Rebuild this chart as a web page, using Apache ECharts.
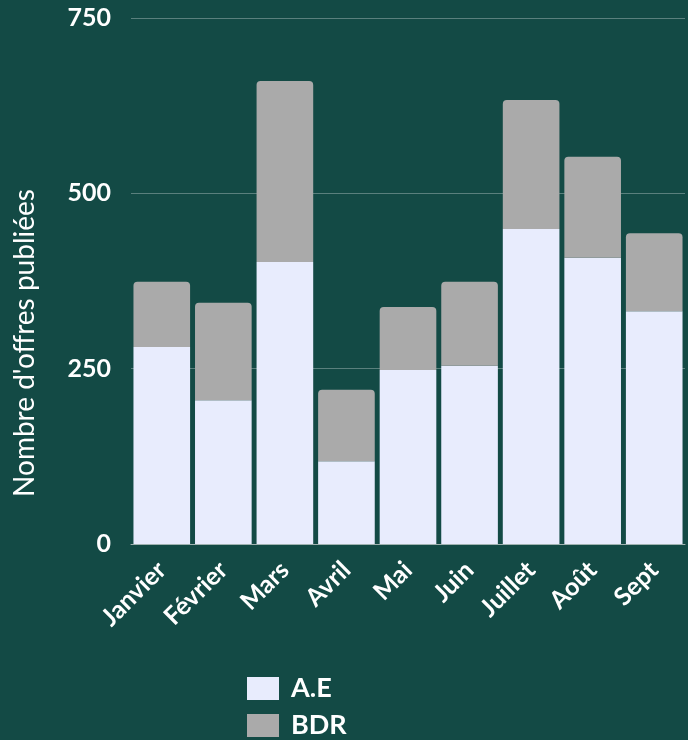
<!DOCTYPE html>
<html><head><meta charset="utf-8">
<script src="https://cdn.jsdelivr.net/npm/echarts@6/dist/echarts.min.js"></script>
<style>html,body{margin:0;padding:0;background:#134a45;}#c{width:688px;height:740px;}</style>
</head><body><div id="c"></div>
<script>
const categories = ['Janvier','Février','Mars','Avril','Mai','Juin','Juillet','Août','Sept'];
const aeValues = [281, 205, 402, 118, 248, 254, 449, 408, 332];
const bdrValues = [93, 139, 258, 102, 90, 120, 184, 144, 111];
const yTicks = [0, 250, 500, 750];

const chart = echarts.init(document.getElementById('c'));
chart.setOption({
  backgroundColor: '#134a45',
  textStyle: { fontFamily: 'Lato' },
  grid: { left: 131, right: 3, top: 18, bottom: 196, outerBoundsMode: 'none', containLabel: false },
  legend: {
    orient: 'vertical', left: 247, top: 675, height: 80, padding: 0,
    itemWidth: 32, itemHeight: 23, itemGap: 10, icon: 'rect',
    data: ['A.E', 'BDR'],
    textStyle: { color: '#ffffff', fontSize: 27, lineHeight: 23, fontWeight: 'bold', fontFamily: 'Lato', padding: [0, 0, 0, 7] }
  },
  xAxis: {
    type: 'category', data: categories,
    axisLine: { show: true, lineStyle: { color: '#9fb2b0', width: 1 } },
    axisTick: { show: false },
    axisLabel: { rotate: 45, color: '#ffffff', fontSize: 25, fontWeight: 'bold', fontFamily: 'Lato', margin: 22, interval: 0 }
  },
  yAxis: {
    type: 'value', min: 0, max: 750, interval: 250,
    name: "Nombre d'offres publiées", nameLocation: 'middle', nameGap: 92, nameRotate: 90,
    nameTextStyle: { color: '#ffffff', fontSize: 28, fontFamily: 'Lato', padding: [0, 124, 0, 0] },
    axisLabel: { color: '#ffffff', fontSize: 25, fontWeight: 'bold', fontFamily: 'Lato', margin: 20,
      formatter: v => yTicks.includes(v) ? String(v) : '' },
    splitLine: { lineStyle: { color: 'rgba(255,255,255,0.3)', width: 1 } },
    axisLine: { show: false }, axisTick: { show: false }
  },
  series: [
    { name: 'A.E', type: 'bar', stack: 's', data: aeValues, barCategoryGap: '8%',
      itemStyle: { color: '#e8ecfd' } },
    { name: 'BDR', type: 'bar', stack: 's', data: bdrValues, barCategoryGap: '8%',
      itemStyle: { color: '#aaaaaa', borderRadius: [4, 4, 0, 0] } }
  ]
});
</script></body></html>
